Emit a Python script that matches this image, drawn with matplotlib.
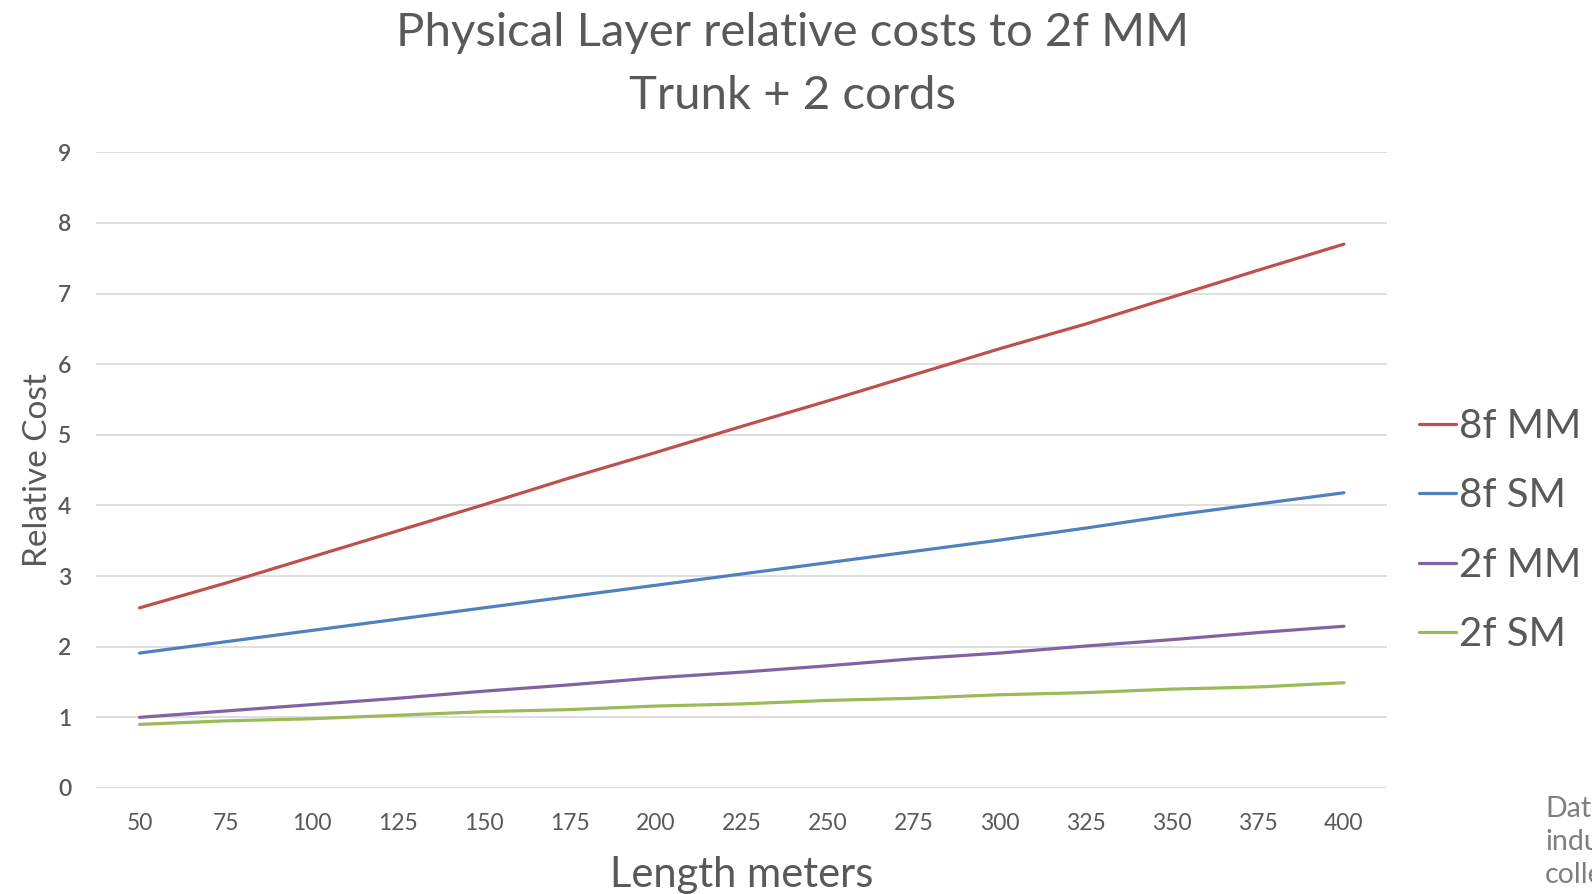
import matplotlib
matplotlib.use("Agg")
import matplotlib.pyplot as plt

lengths = ["50", "75", "100", "125", "150", "175", "200", "225", "250",
           "275", "300", "325", "350", "375", "400"]
mm8 = [2.55, 2.90, 3.27, 3.64, 4.01, 4.39, 4.75, 5.12, 5.48, 5.85, 6.22, 6.57, 6.95, 7.33, 7.70]
sm8 = [1.91, 2.07, 2.23, 2.39, 2.55, 2.71, 2.87, 3.03, 3.19, 3.35, 3.51, 3.68, 3.86, 4.02, 4.18]
mm2 = [1.00, 1.09, 1.18, 1.27, 1.37, 1.46, 1.56, 1.64, 1.73, 1.83, 1.91, 2.01, 2.10, 2.20, 2.29]
sm2 = [0.90, 0.95, 0.98, 1.03, 1.08, 1.11, 1.16, 1.19, 1.24, 1.27, 1.32, 1.35, 1.40, 1.43, 1.49]
series_names = ["8f MM", "8f SM", "2f MM", "2f SM"]
colors = ["#C0504D", "#4F81BD", "#8064A2", "#9BBB59"]
yticks = list(range(0, 10))

plt.rcParams['font.family'] = ['Lato', 'DejaVu Sans']
txt = "#595959"

fig = plt.figure(figsize=(15.92, 8.94), dpi=100)
ax = fig.add_axes([0.0606, 0.1186, 0.8106, 0.711])

x = list(range(len(lengths)))
for vals, name, c in zip([mm8, sm8, mm2, sm2], series_names, colors):
    ax.plot(x, vals, color=c, lw=2.3, label=name, solid_capstyle='round')

ax.set_xlim(-0.5, len(lengths) - 0.5)
ax.set_ylim(0, 9)
ax.set_yticks(yticks)
ax.set_yticklabels([str(v) for v in yticks])
ax.set_xticks(x)
ax.set_xticklabels(lengths)
ax.grid(axis='y', color='#D9D9D9', lw=1.2)
ax.set_axisbelow(True)
for s in ax.spines.values():
    s.set_visible(False)
ax.tick_params(axis='both', length=0, labelsize=16.5, colors=txt)
for lab in ax.get_yticklabels():
    lab.set_fontweight('semibold')
ax.tick_params(axis='y', pad=18)
ax.tick_params(axis='x', pad=18)

ax.set_xlabel("Length meters", fontsize=30, color=txt, labelpad=16)
ax.set_ylabel("Relative Cost", fontsize=24, color=txt, labelpad=4)

fig.text(0.498, 0.963, "Physical Layer relative costs to 2f MM", ha='center', va='center',
         fontsize=34, color=txt)
fig.text(0.498, 0.893, "Trunk + 2 cords", ha='center', va='center',
         fontsize=34, color=txt)

leg = ax.legend(loc='center left', bbox_to_anchor=(1.012, 0.405), frameon=False,
                fontsize=29, labelcolor=txt, handlelength=0.92, handletextpad=0.08,
                labelspacing=0.81, borderaxespad=0)

fig.text(0.9705, 0.058, "Data\nindustry\ncollected", ha='left', va='center',
         fontsize=20.5, color='#7F7F7F', linespacing=1.35)

fig.savefig("out.png", dpi=100)
